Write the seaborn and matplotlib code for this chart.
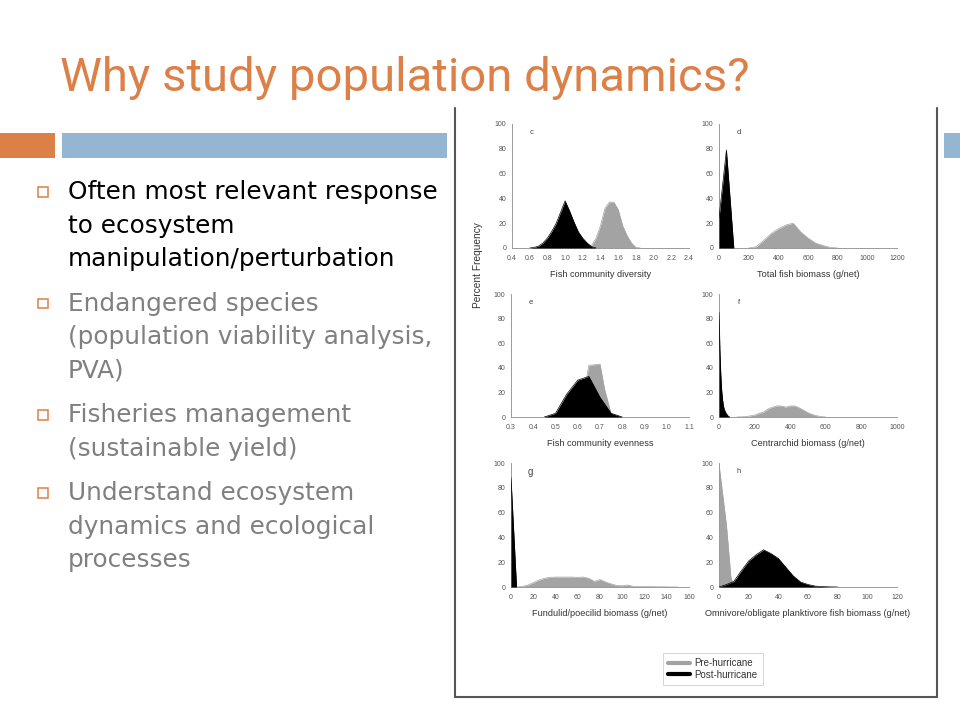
import numpy as np
import pandas as pd
import matplotlib
matplotlib.use("Agg")
import matplotlib.pyplot as plt
import seaborn as sns
from matplotlib.patches import Rectangle
from matplotlib.lines import Line2D

# Slide text
title = "Why study population dynamics?"
bullets = [
    (["Often most relevant response", "to ecosystem", "manipulation/perturbation"], "#000000"),
    (["Endangered species", "(population viability analysis,", "PVA)"], "#808080"),
    (["Fisheries management", "(sustainable yield)"], "#808080"),
    (["Understand ecosystem", "dynamics and ecological", "processes"], "#808080"),
]

# Percent frequency curves (pre = grey, post = black)
c_x_pre = [1.25, 1.3, 1.35, 1.4, 1.45, 1.5, 1.55, 1.6, 1.65, 1.7, 1.75, 1.8, 1.85]
c_y_pre = [0, 2, 8, 18, 32, 37, 37, 31, 18, 10, 4, 0.5, 0]
c_x_post = [0.6, 0.65, 0.7, 0.75, 0.8, 0.85, 0.9, 0.95, 1.0, 1.05, 1.1, 1.15, 1.2, 1.25, 1.3, 1.35]
c_y_post = [0, 0.5, 1.5, 4, 8, 13.5, 20, 29, 38, 30, 21, 13, 7.8, 4, 1, 0]

d_x_pre = [200, 250, 300, 350, 400, 450, 500, 550, 600, 650, 700, 750, 800]
d_y_pre = [0, 1, 6, 11.5, 15.5, 18.5, 20, 13, 8, 4, 2, 0.5, 0]
d_x_post = [0, 50, 100]
d_y_post = [24, 79, 0]

e_x_pre = [0.45, 0.5, 0.55, 0.6, 0.64, 0.65, 0.7, 0.72, 0.75, 0.77]
e_y_pre = [0, 2, 10, 24, 32, 42, 43, 23, 2.5, 0]
e_x_post = [0.45, 0.5, 0.55, 0.6, 0.65, 0.7, 0.75, 0.8]
e_y_post = [0, 3, 18.5, 30, 33, 16, 3, 0]

f_x_pre = [100, 150, 200, 225, 250, 275, 300, 325, 350, 375, 400, 425, 450, 475, 500, 525, 550, 575, 600]
f_y_pre = [0, 0.3, 1.5, 3, 4, 6.5, 8, 9, 9, 8, 9, 9, 7.5, 5.5, 3.5, 2, 1, 0.3, 0]
f_x_post = [0, 5, 10, 15, 20, 25, 30, 40, 50, 60]
f_y_post = [85, 55, 35, 22, 14, 9, 6, 3, 1, 0]

g_x_pre = [5, 10, 15, 20, 25, 30, 35, 40, 45, 50, 55, 60, 65, 70, 75, 80, 85, 90, 95,
           100, 105, 110, 120, 130, 140, 150]
g_y_pre = [0, 0.5, 1.5, 3.5, 5.5, 7, 7.8, 8, 8, 8, 8, 7.8, 8, 7, 4.5, 6, 4, 2.5, 1.2,
           1, 1.6, 0.5, 0.3, 0.2, 0.1, 0]
g_x_post = [0, 5]
g_y_post = [88, 0]

h_x_pre = [0, 5, 8, 10]
h_y_pre = [99, 50, 8, 0]
h_x_post = [0, 5, 10, 15, 20, 25, 30, 35, 40, 45, 50, 55, 60, 65, 70, 75, 80]
h_y_post = [0, 2, 4.5, 13, 21, 26, 30, 27, 23, 16, 9, 4, 2, 0.7, 0.3, 0.1, 0]

panel_letters = ["c", "d", "e", "f", "g", "h"]
x_labels = ["Fish community diversity", "Total fish biomass (g/net)",
            "Fish community evenness", "Centrarchid biomass (g/net)",
            "Fundulid/poecilid biomass (g/net)",
            "Omnivore/obligate planktivore fish biomass (g/net)"]
x_ticks = [np.arange(0.4, 2.41, 0.2), np.arange(0, 1201, 200),
           np.arange(0.3, 1.11, 0.1), np.arange(0, 1001, 200),
           np.arange(0, 161, 20), np.arange(0, 121, 20)]
x_fmt = ["{:.1f}", "{:.0f}", "{:.1f}", "{:.0f}", "{:.0f}", "{:.0f}"]
y_ticks = [0, 20, 40, 60, 80, 100]
series = [(c_x_pre, c_y_pre, c_x_post, c_y_post), (d_x_pre, d_y_pre, d_x_post, d_y_post),
          (e_x_pre, e_y_pre, e_x_post, e_y_post), (f_x_pre, f_y_pre, f_x_post, f_y_post),
          (g_x_pre, g_y_pre, g_x_post, g_y_post), (h_x_pre, h_y_pre, h_x_post, h_y_post)]
legend_labels = ["Pre-hurricane", "Post-hurricane"]

ORANGE = "#DD8047"
BLUE = "#94B6D2"
GREY = "#A3A3A3"

sns.set_theme(style="white")
plt.rcParams["font.family"] = ["DejaVu Sans"]
fig_font = ["Liberation Sans", "DejaVu Sans"]

W, H = 960, 720
fig = plt.figure(figsize=(9.6, 7.2), dpi=100)

# background layer in pixel coordinates
bg = fig.add_axes([0, 0, 1, 1])
bg.set_xlim(0, W)
bg.set_ylim(H, 0)
bg.axis("off")

bg.text(60, 91, title, color=ORANGE, fontsize=34, family=["Roboto", "DejaVu Sans"],
        va="baseline", ha="left")
bg.add_patch(Rectangle((0, 133), 55, 25, color=ORANGE, lw=0))
bg.add_patch(Rectangle((62, 133), 385, 25, color=BLUE, lw=0))
bg.add_patch(Rectangle((944, 133), 16, 25, color=BLUE, lw=0))

y = 199
for lines, col in bullets:
    bg.add_patch(Rectangle((38, y - 12), 9.5, 9.5, fill=False, ec=ORANGE, lw=1.1))
    for ln in lines:
        bg.text(68, y, ln, color=col, fontsize=17.8, va="baseline", ha="left")
        y += 33.7
    y += 10.5

# frame of the embedded figure
bg.plot([455, 455, 937, 937], [108, 697, 697, 108], color="#555555", lw=1.5,
        solid_joinstyle="miter")


def px_axes(x0, y0, x1, y1):
    return fig.add_axes([x0 / W, 1 - y1 / H, (x1 - x0) / W, (y1 - y0) / H])


boxes = [(512, 124, 689, 248), (719, 124, 897, 248),
         (511, 294, 689, 417), (719, 294, 897, 417),
         (511, 463, 689, 587), (719, 463, 897, 587)]

for i, (box, (xp, yp, xq, yq)) in enumerate(zip(boxes, series)):
    ax = px_axes(*box)
    ax.patch.set_alpha(0)
    sns.lineplot(x=xp, y=yp, ax=ax, color=GREY, lw=0.5, zorder=2)
    ax.fill_between(xp, yp, 0, color=GREY, lw=0, zorder=2)
    sns.lineplot(x=xq, y=yq, ax=ax, color="black", lw=0.5, zorder=3)
    ax.fill_between(xq, yq, 0, color="black", lw=0, zorder=3)
    ticks = x_ticks[i]
    ax.set_xlim(ticks[0], ticks[-1])
    ax.set_ylim(0, 100)
    ax.set_xticks(ticks)
    ax.set_xticklabels([x_fmt[i].format(t) for t in ticks], family=fig_font)
    ax.set_yticks(y_ticks)
    ax.set_yticklabels([str(t) for t in y_ticks], family=fig_font)
    sns.despine(ax=ax)
    for s in ("left", "bottom"):
        ax.spines[s].set_color("#9A9A9A")
        ax.spines[s].set_linewidth(0.7)
    ax.tick_params(axis="both", length=2, width=0.5, color="#9A9A9A", labelsize=5,
                   labelcolor="#555555", direction="out")
    ax.tick_params(axis="x", pad=3)
    ax.tick_params(axis="y", pad=2)
    ax.set_xlabel(x_labels[i], fontsize=6.6, color="#333333", family=fig_font, labelpad=6)
    ax.set_ylabel("")
    ax.text(0.11, 0.93, panel_letters[i], transform=ax.transAxes,
            fontsize=7 if panel_letters[i] == "g" else 5.5,
            color="#444444", family=fig_font, ha="center", va="center")

fig.text(478 / W, 1 - 265 / H, "Percent Frequency", rotation=90, fontsize=7.3,
         color="#333333", family=fig_font, ha="center", va="center")

handles = [Line2D([], [], color=GREY, lw=3), Line2D([], [], color="black", lw=3)]
leg = fig.legend(handles, legend_labels, loc="center",
                 bbox_to_anchor=(713 / W, 1 - 669 / H), frameon=True, fancybox=False,
                 prop={"family": fig_font, "size": 7}, handlelength=2.2,
                 handletextpad=0.5, labelspacing=0.15, borderpad=0.5)
leg.get_frame().set_edgecolor("#CCCCCC")
leg.get_frame().set_linewidth(0.7)
for t in leg.get_texts():
    t.set_color("#333333")

fig.savefig("out.png", dpi=100)
